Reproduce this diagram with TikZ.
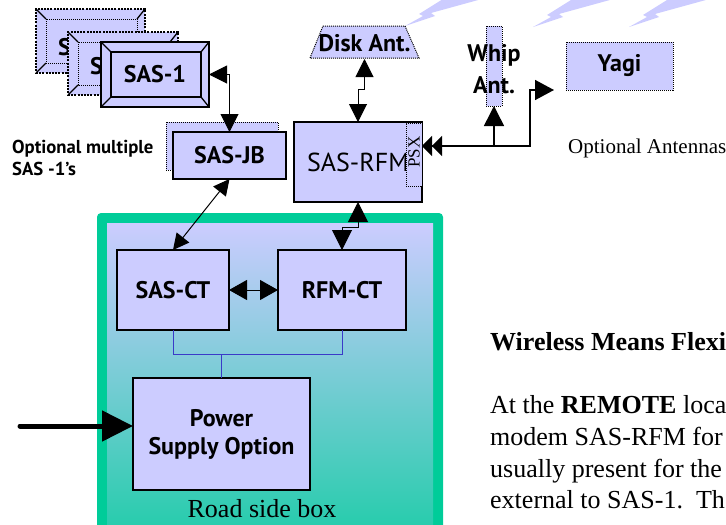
\documentclass[tikz,border=0pt]{standalone}
\usepackage{fontspec}
\setmainfont{Liberation Serif}
\setsansfont{PT Sans}
\usetikzlibrary{arrows.meta,calc}

\definecolor{lav}{HTML}{CCCCFF}
\definecolor{roadgreen}{HTML}{00CC99}
\definecolor{roadmid}{HTML}{92CADC}
\definecolor{wire}{HTML}{3A3AC8}
\newcommand{\fsz}[2]{\fontsize{#1pt}{#2pt}\selectfont}
% inner face and corner cuts of a bevelled box
\newcommand{\bevelcut}[2]{%
  \draw[#2] ($(#1.north west)+(10,10)$) rectangle ($(#1.south east)+(-8,-10)$);
  \draw[line width=1.3pt] (#1.north west) -- ++(10,10) (#1.north east) -- ++(-8,10)
        (#1.south west) -- ++(10,-10) (#1.south east) -- ++(-8,-10);}

\begin{document}
\begin{tikzpicture}[x=1pt,y=-1pt,
  >={Triangle[length=18pt,width=18pt]},
  box/.style={draw, line width=1.2pt, fill=lav, inner sep=0pt, outer sep=0pt},
  dotbox/.style={draw, fill=lav, line width=1pt, dash pattern=on 1pt off 1pt, inner sep=0pt, outer sep=0pt},
  ghost/.style={draw, fill=lav, line width=1.8pt, dash pattern=on 2pt off 1.2pt, inner sep=0pt, outer sep=0pt},
  lbl/.style={font=\sffamily\bfseries\fsz{24}{28}, align=center},
  serif/.style={font=\fsz{26}{31}, inner sep=0pt, anchor=base west},
  conn/.style={line width=1pt},
  wireline/.style={wire, line width=1pt},
]
\useasboundingbox (0,0) rectangle (726,525);

% lightning bolts
\foreach \bx/\by in {405/26, 533/27, 629/27}{
  \fill[lav, shift={(\bx,\by)}] (0,0) -- (30,-10) -- (26,-13) -- (95,-32) -- (46,-32)
    -- (14,-12) -- (18,-10) -- cycle;
}

% road side box
\fill[roadgreen, rounded corners=4pt] (97,213) rectangle (443,600);
\shade[top color=lav, middle color=roadmid, bottom color=roadgreen] (107,223) rectangle (433,600);
\node[font=\fsz{26}{31}, inner sep=0pt, anchor=base] (road) at (262,517) {Road side box};

% stacked SAS-1 units, the rear ones mostly hidden
\node[ghost, minimum width=109, minimum height=64] (back1) at (90.5,41) {};
\bevelcut{back1}{line width=1pt, dash pattern=on 1pt off 1pt}
\node[lbl, anchor=base west, inner sep=0pt] (back1txt) at (58,55) {S};
\node[ghost, minimum width=110, minimum height=63] (back2) at (123,63.5) {};
\bevelcut{back2}{line width=1pt, dash pattern=on 1pt off 1pt}
\node[lbl, anchor=base west, inner sep=0pt] (back2txt) at (90,74) {S};
\node[box, line width=1.5pt, minimum width=108, minimum height=65, lbl] (sas1) at (155,74.5) {SAS-1};
\bevelcut{sas1}{line width=1.3pt}

\node[font=\sffamily\bfseries\fsz{18.7}{22}, anchor=base west, inner sep=0pt] (opt1) at (12,153) {Optional multiple};
\node[font=\sffamily\bfseries\fsz{18.7}{22}, anchor=base west, inner sep=0pt] (opt2) at (12,175) {SAS -1’s};

% junction box
\node[dotbox, minimum width=112, minimum height=48] (jbshadow) at (222,146) {};
\node[box, minimum width=113, minimum height=47, lbl] (jb) at (229.5,155.5) {SAS-JB};

% radio modem
\node[box, minimum width=128, minimum height=80, font=\sffamily\fsz{26}{30}] (rfm) at (358,162) {SAS-RFM};
\node[dotbox, minimum width=16, minimum height=63] (psx) at (414,154.5) {};
\node[rotate=90, font=\fsz{17}{20}, inner sep=0pt] (psxtxt) at (414,152) {PSX};

% antennas
\fill[lav] (323,26) -- (405,26) -- (419,58) -- (310,58) -- cycle;
\draw[line width=1pt, dash pattern=on 1pt off 1pt] (323,26) -- (405,26) -- (419,58) -- (310,58) -- cycle;
\node[minimum width=109, minimum height=32, inner sep=0pt, outer sep=0pt, lbl] (disk) at (364.5,43) {Disk Ant.};

\node[dotbox, minimum width=16, minimum height=80] (whip) at (494,66) {};
\node[lbl, anchor=base, inner sep=0pt] (whip1) at (494,61) {Whip};
\node[lbl, anchor=base, inner sep=0pt] (whip2) at (494,93) {Ant.};

\node[dotbox, minimum width=107, minimum height=48, lbl] (yagi) at (619.5,66) {Yagi};
\node[font=\fsz{21}{25}, inner sep=0pt, anchor=base west] (optant) at (568,153) {Optional Antennas};

% controllers and power supply
\node[box, minimum width=112, minimum height=80, lbl] (sasct) at (173,290) {SAS-CT};
\node[box, minimum width=128, minimum height=80, lbl] (rfmct) at (342,290) {RFM-CT};
\node[box, minimum width=177, minimum height=112, lbl] (psu) at (221.5,434) {Power\\Supply Option};

% text beside the diagram
\node[serif, font=\bfseries\fsz{26}{31}] (head) at (490,350) {Wireless Means Flexi};
\node[serif] (par1) at (490,413) {At the \textbf{REMOTE} loca};
\node[serif] (par2) at (490,445) {modem SAS-RFM for};
\node[serif] (par3) at (490,477) {usually present for the};
\node[serif] (par4) at (490,508) {external to SAS-1.\ \ Th};

% connectors
\draw[conn,<->] (sas1.east) -| (jb.north);
\draw[conn,<->,>={Triangle[length=16pt,width=16pt]}] (jb.south) -- (sasct.north);
\draw[conn,<->] (disk.south) -- ++(0,30) -| (rfm.north);
\draw[conn,<->,>={Triangle[length=20pt,width=20pt]}] (rfm.south) -- ++(0,25) -| (rfmct.north);
\draw[conn,<->,>={Triangle[length=18pt,width=20pt]}] (sasct.east) -- (rfmct.west);

\draw[wireline] (sasct.south) -- ++(0,24) -| (rfmct.south);
\draw[wireline] (psu.north) -- ++(0,-24);

\coordinate (jct) at (530,146);
\coordinate (yagiend) at ($(yagi.south west)+(-12,0)$);
\draw[line width=1.5pt, {Triangle[length=10pt,width=20pt]Triangle[length=10pt,width=20pt]}-{Triangle[length=19pt,width=20pt]}]
  (psx.east |- jct) -- (jct) |- (yagiend);
\draw[line width=1.5pt, -{Triangle[length=20pt,width=20pt]}] (whip.south |- jct) -- (whip.south);

\coordinate (pin) at (20,426);
\draw[line width=5pt, line cap=round, -{Triangle[length=31pt,width=30pt]}] (pin) -- (psu.west |- pin);
\end{tikzpicture}
\end{document}
